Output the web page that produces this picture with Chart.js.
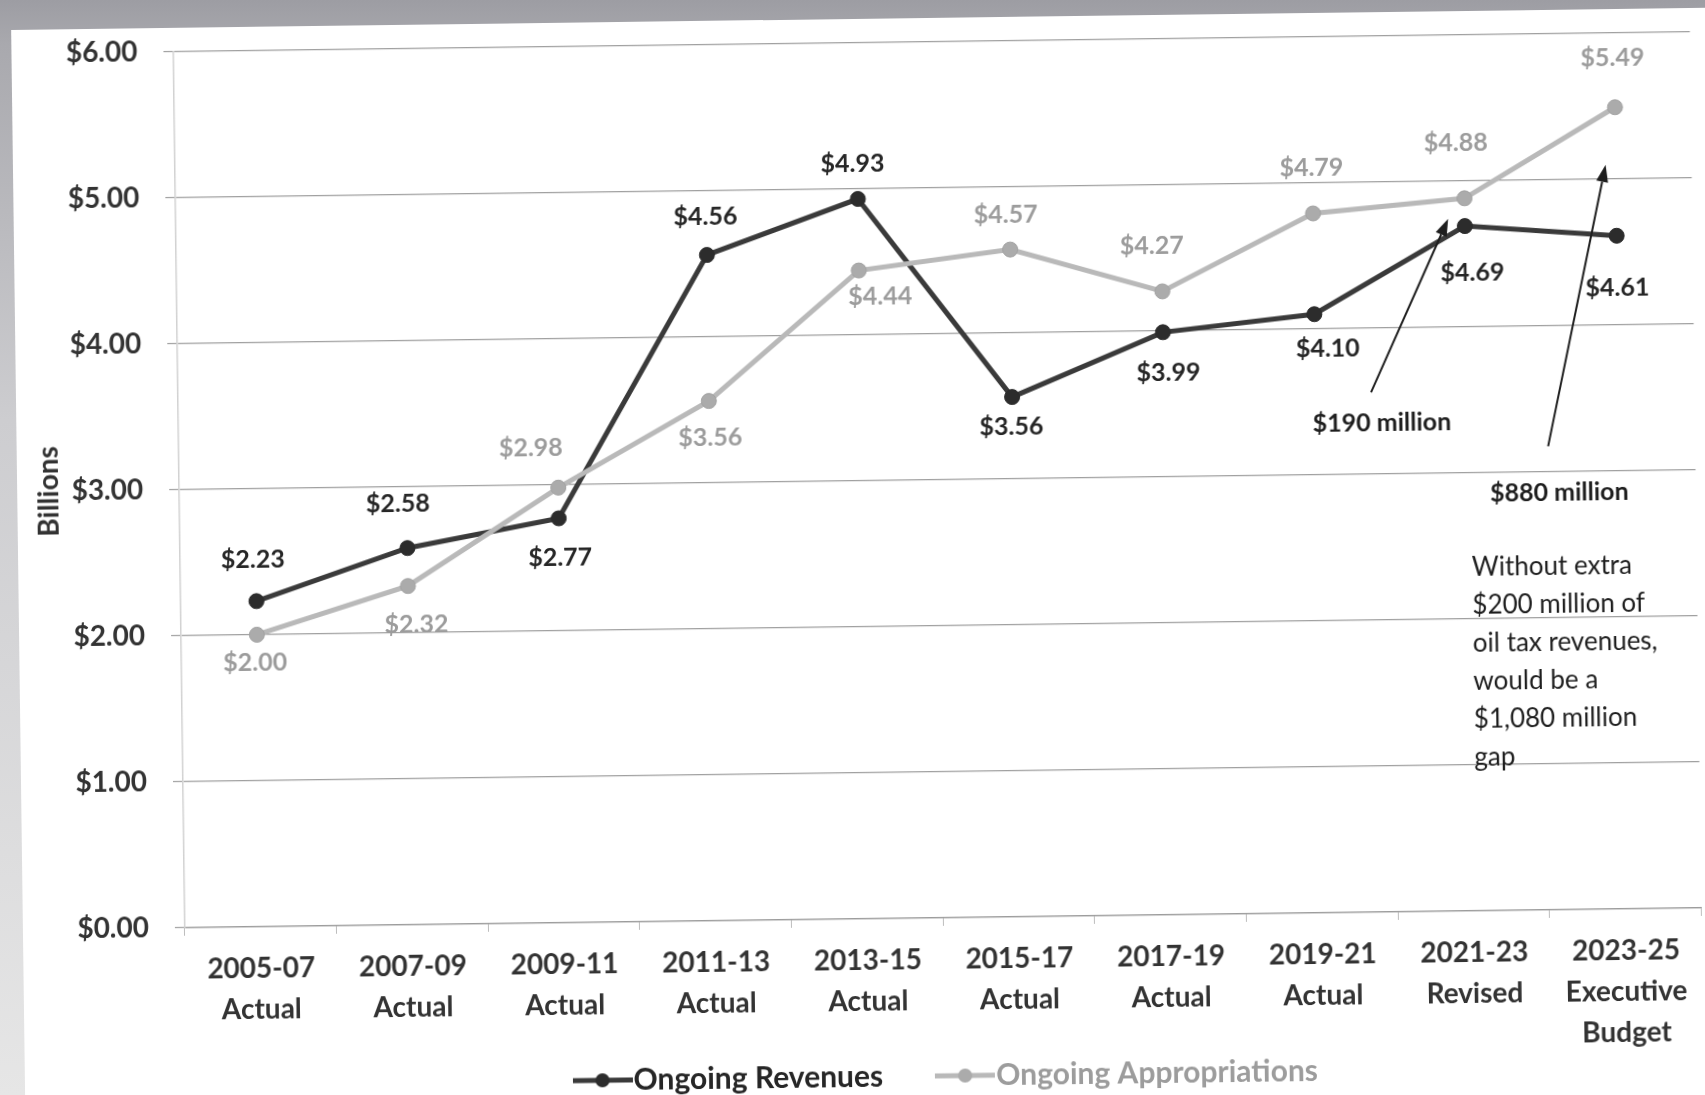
<!DOCTYPE html>
<html>
<head>
<meta charset="utf-8">
<title>Ongoing Revenues vs Ongoing Appropriations</title>
<script src="https://cdn.jsdelivr.net/npm/chart.js@4.4.1/dist/chart.umd.min.js"></script>
<style>
  html, body {
    margin: 0;
    width: 1705px;
    height: 1095px;
    overflow: hidden;
    background: linear-gradient(to bottom, #9d9da3 0px, #a9a9ae 45px, #cdcdd0 420px, #e6e6e6 1095px);
  }
  #sheet {
    position: absolute;
    left: 0;
    top: 0;
    width: 1705px;
    height: 1095px;
    transform: rotate(-0.75deg);
    transform-origin: 852.5px 547.5px;
  }
  #paper {
    position: absolute;
    left: 18px;
    top: 19px;
    width: 1900px;
    height: 1300px;
    background: #ffffff;
  }
  #chart {
    position: absolute;
    left: 0;
    top: 0;
  }
</style>
</head>
<body>
<div id="sheet">
  <div id="paper"></div>
  <canvas id="chart" width="1705" height="1095"></canvas>
</div>
<script>
// Biennium labels (two or three lines each)
const periods = [
  ['2005-07', 'Actual'],
  ['2007-09', 'Actual'],
  ['2009-11', 'Actual'],
  ['2011-13', 'Actual'],
  ['2013-15', 'Actual'],
  ['2015-17', 'Actual'],
  ['2017-19', 'Actual'],
  ['2019-21', 'Actual'],
  ['2021-23', 'Revised'],
  ['2023-25', 'Executive', 'Budget']
];

// Billions of dollars per biennium
const ongoingRevenues       = [2.23, 2.58, 2.77, 4.56, 4.93, 3.56, 3.99, 4.10, 4.69, 4.61];
const ongoingAppropriations = [2.00, 2.32, 2.98, 3.56, 4.44, 4.57, 4.27, 4.79, 4.88, 5.49];

// Value axis ticks
const yTickValues = [0, 1, 2, 3, 4, 5, 6];

// Gap callouts
const gapNoteTexts = ['$190 million', '$880 million'];
const oilTaxNote = ['Without extra', '$200 million of', 'oil tax revenues,', 'would be a', '$1,080 million', 'gap'];

// ---- styling / placement (pixels or scale units, not data) ----
const FONT = 'Lato, "Open Sans", "DejaVu Sans", sans-serif';
const DARK = '#3a3a3a';
const DARK_POINT = '#2c2c2c';
const LIGHT = '#b9b9b9';
const LIGHT_POINT = '#ababab';
const TEXT_DARK = '#262626';
const TEXT_LIGHT = '#9c9c9c';

// label offsets from each point, in px
const revenueLabelOffsets = [[-3,-41],[-9,-44],[1,39],[-1,-38],[-5,-35],[-1,30],[5,41],[13,35],[7,47],[0,52]];
const approLabelOffsets   = [[-2,28],[8,39],[-27,-40],[1,37],[21,26],[-4,-35],[-10,-46],[-1,-46],[-8,-55],[-2,-49]];

// callout geometry in (category index, billions)
const gapArrowSpecs = [
  { from: [7.367, 3.56], to: [7.89, 4.74] },
  { from: [8.53, 3.175], to: [8.933, 5.096] }
];
const gapNoteAnchors = [[7.436, 3.352], [8.60, 2.855]];
const oilTaxNoteAnchor = [8.017, 2.352];
const oilTaxLineStep = 38;

const LEGEND_FONT_SIZE = 30;
const LEGEND_GAP = 66;
const LEGEND_DROP = 7;

function legendMarker(lineColor, dotColor) {
  const c = document.createElement('canvas');
  c.width = 60;
  c.height = 18;
  const g = c.getContext('2d');
  g.strokeStyle = lineColor;
  g.lineWidth = 5;
  g.beginPath();
  g.moveTo(0, 9);
  g.lineTo(60, 9);
  g.stroke();
  g.fillStyle = dotColor;
  g.beginPath();
  g.arc(30, 9, 7, 0, Math.PI * 2);
  g.fill();
  return c;
}
const legendIcons = [legendMarker(DARK, DARK_POINT), legendMarker(LIGHT, LIGHT_POINT)];
const legendColors = [TEXT_DARK, TEXT_LIGHT];

// centre the legend row under the plot area and let the category
// labels use the full height below the axis
const bottomArrangement = {
  id: 'bottomArrangement',
  afterLayout(chart) {
    const xs = chart.scales.x;
    xs.bottom = chart.height;
    xs.height = xs.bottom - xs.top;
    const lg = chart.legend;
    if (!lg || !lg.lineWidths) return;
    const P = lg.options.labels.padding;
    const lw = lg.lineWidths[0];
    const ca = chart.chartArea;
    const mid = (ca.left + ca.right) / 2;
    const marker = 14; // marker overhang left of the legend box
    const desiredStart = mid - (lw - P + marker) / 2 + marker;
    const currentStart = (lg.left + P + lg.right - lw) / 2;
    const d = desiredStart - currentStart;
    lg.left += d;
    lg.right += d;
    lg.top += LEGEND_DROP;
    lg.bottom += LEGEND_DROP;
  }
};

// dollar value next to every point
const pointValueLabels = {
  id: 'pointValueLabels',
  afterDatasetsDraw(chart) {
    const ctx = chart.ctx;
    const offsets = [revenueLabelOffsets, approLabelOffsets];
    const colors = [TEXT_DARK, TEXT_LIGHT];
    ctx.save();
    ctx.font = 'bold 25px ' + FONT;
    ctx.textAlign = 'center';
    ctx.textBaseline = 'middle';
    chart.data.datasets.forEach((ds, di) => {
      const meta = chart.getDatasetMeta(di);
      ctx.fillStyle = colors[di];
      meta.data.forEach((pt, i) => {
        const [dx, dy] = offsets[di][i];
        ctx.fillText('$' + ds.data[i].toFixed(2), pt.x + dx, pt.y + dy);
      });
    });
    ctx.restore();
  }
};

// gap arrows and notes
const gapCallouts = {
  id: 'gapCallouts',
  afterDraw(chart) {
    const { ctx, scales: { x, y } } = chart;
    const P = ([i, v]) => [x.getPixelForValue(i), y.getPixelForValue(v)];
    ctx.save();
    ctx.strokeStyle = '#1e1e1e';
    ctx.fillStyle = '#1e1e1e';
    ctx.lineWidth = 2;
    gapArrowSpecs.forEach(a => {
      const [x0, y0] = P(a.from);
      const [x1, y1] = P(a.to);
      const ang = Math.atan2(y1 - y0, x1 - x0);
      const head = 17, half = 6;
      const bx = x1 - head * Math.cos(ang), by = y1 - head * Math.sin(ang);
      ctx.beginPath();
      ctx.moveTo(x0, y0);
      ctx.lineTo(bx, by);
      ctx.stroke();
      ctx.beginPath();
      ctx.moveTo(x1, y1);
      ctx.lineTo(bx + half * Math.sin(ang), by - half * Math.cos(ang));
      ctx.lineTo(bx - half * Math.sin(ang), by + half * Math.cos(ang));
      ctx.closePath();
      ctx.fill();
    });
    ctx.font = 'bold 25px ' + FONT;
    ctx.textAlign = 'center';
    ctx.textBaseline = 'middle';
    gapNoteTexts.forEach((t, k) => {
      const [tx, ty] = P(gapNoteAnchors[k]);
      ctx.fillText(t, tx, ty);
    });
    ctx.font = '26px ' + FONT;
    ctx.textAlign = 'left';
    const [nx, ny] = P(oilTaxNoteAnchor);
    oilTaxNote.forEach((line, k) => {
      ctx.fillText(line, nx, ny + k * oilTaxLineStep);
    });
    ctx.restore();
  }
};

const chart = new Chart(document.getElementById('chart'), {
  type: 'line',
  data: {
    labels: periods,
    datasets: [
      {
        label: 'Ongoing Revenues',
        data: ongoingRevenues,
        borderColor: DARK,
        backgroundColor: DARK_POINT,
        pointBackgroundColor: DARK_POINT,
        pointBorderColor: DARK_POINT,
        borderWidth: 5,
        pointRadius: 7.5,
        pointBorderWidth: 1,
        tension: 0,
        order: 1
      },
      {
        label: 'Ongoing Appropriations',
        data: ongoingAppropriations,
        borderColor: LIGHT,
        backgroundColor: LIGHT_POINT,
        pointBackgroundColor: LIGHT_POINT,
        pointBorderColor: '#a2a2a2',
        borderWidth: 5,
        pointRadius: 7.5,
        pointBorderWidth: 1,
        tension: 0,
        order: 0
      }
    ]
  },
  options: {
    responsive: false,
    animation: false,
    events: [],
    layout: { padding: { top: 40, right: 7, bottom: 0, left: 0 } },
    scales: {
      x: {
        type: 'category',
        offset: true,
        afterFit: s => { s.height = 70; },
        grid: {
          display: true,
          drawOnChartArea: false,
          drawTicks: true,
          tickLength: 8,
          color: '#bdbdbd',
          offset: true
        },
        border: { display: true, color: '#9c9c9c', width: 1.2 },
        ticks: {
          autoSkip: false,
          maxRotation: 0,
          padding: 14,
          color: '#333333',
          font: { family: FONT, size: 28, weight: 'bold', lineHeight: 1.45 }
        }
      },
      y: {
        min: 0,
        max: 6,
        afterFit: s => { s.width = 180; },
        afterBuildTicks: s => { s.ticks = yTickValues.map(v => ({ value: v })); },
        grid: {
          color: '#a0a0a0',
          lineWidth: 1.2,
          drawTicks: true,
          tickLength: 10
        },
        border: { display: true, color: '#d2d2d2', width: 1.5 },
        ticks: {
          padding: 26,
          color: '#333333',
          font: { family: FONT, size: 28, weight: 'bold' },
          callback: v => '$' + Number(v).toFixed(2)
        },
        title: {
          display: true,
          text: 'Billions',
          color: '#333333',
          padding: { top: 33, bottom: 0 },
          font: { family: FONT, size: 28, weight: 'bold' }
        }
      }
    },
    plugins: {
      tooltip: { enabled: false },
      legend: {
        display: true,
        position: 'bottom',
        align: 'center',
        labels: {
          usePointStyle: true,
          pointStyleWidth: 32,
          padding: LEGEND_GAP,
          font: { family: FONT, size: LEGEND_FONT_SIZE, weight: 'bold' },
          generateLabels: ch => ch.data.datasets.map((ds, i) => ({
            text: ds.label,
            datasetIndex: i,
            pointStyle: legendIcons[i],
            fontColor: legendColors[i],
            fillStyle: 'rgba(0,0,0,0)',
            strokeStyle: 'rgba(0,0,0,0)',
            lineWidth: 0,
            hidden: false
          }))
        }
      }
    }
  },
  plugins: [bottomArrangement, pointValueLabels, gapCallouts]
});
</script>
</body>
</html>
